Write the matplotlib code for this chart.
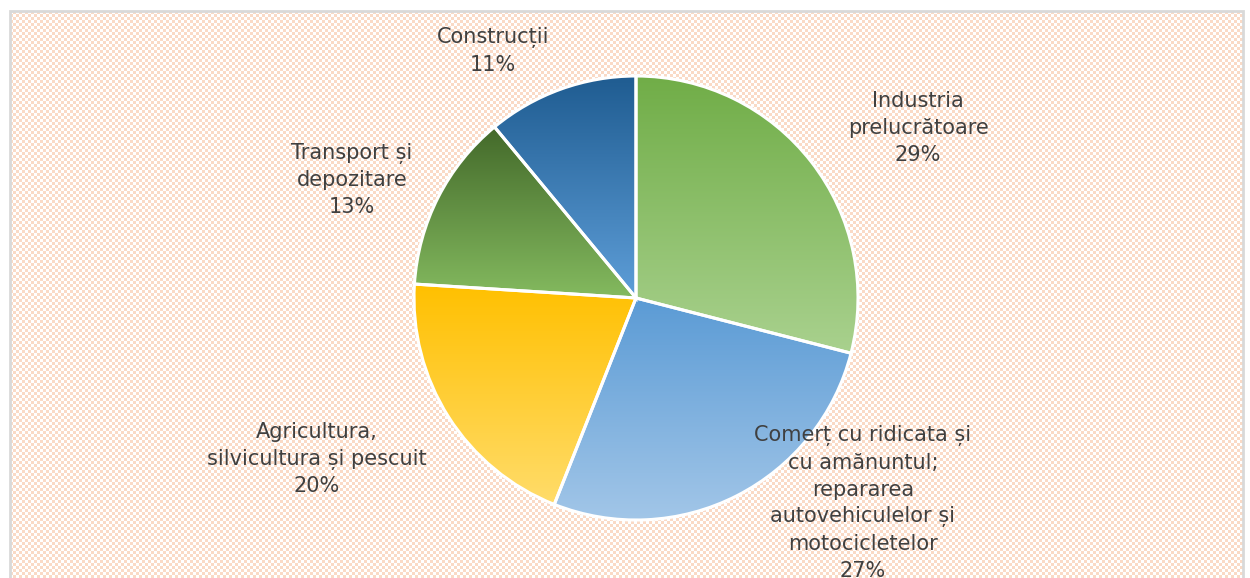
import numpy as np
import matplotlib
matplotlib.use("Agg")
import matplotlib.pyplot as plt
from matplotlib.colors import LinearSegmentedColormap
from matplotlib.patches import Rectangle

# ---- data ----
categories = ["Industria\nprelucrătoare",
              "Comerț cu ridicata și\ncu amănuntul;\nrepararea\nautovehiculelor și\nmotocicletelor",
              "Agricultura,\nsilvicultura și pescuit",
              "Transport și\ndepozitare",
              "Construcții"]
values = [29, 27, 20, 13, 11]

# gradient colours (top, bottom) per slice
grad_top = ["#70ad47", "#5b9bd5", "#ffc000", "#43692a", "#1f5c91"]
grad_bot = ["#a9d18e", "#a2c6e8", "#ffdc6a", "#84ba5f", "#5e9ed8"]

# label block centres in pixel coords (x, y from top)
label_pos = [(918, 128), (863, 503), (317, 459), (352, 180), (493, 51)]

W, H = 1250, 578
fig = plt.figure(figsize=(W / 100, H / 100), dpi=100)
fig.patch.set_facecolor("white")
ax = fig.add_axes([0, 0, 1, 1])
ax.set_xlim(0, W)
ax.set_ylim(0, H)
ax.set_aspect("equal")
ax.axis("off")

# ---- patterned background inside frame ----
fx0, fx1, fy_top = 10, 1243, 11
pw, ph = fx1 - fx0, H - fy_top
jj, ii = np.meshgrid(np.arange(pw), np.arange(ph))
chk = ((ii // 3 + jj // 3) % 2).astype(float)
peach = np.array([250, 218, 198]) / 255.0
white = np.array([1.0, 1.0, 1.0])
img = white[None, None, :] * (1 - chk[..., None]) + peach[None, None, :] * chk[..., None]
ax.imshow(img, extent=(fx0, fx1, 0, H - fy_top), interpolation="nearest",
          zorder=0, aspect="auto")
ax.add_patch(Rectangle((fx0, -5), pw, H - fy_top + 5, fill=False,
                       edgecolor="#d9d9d9", linewidth=2, zorder=1))

# ---- pie ----
cx, cy_px, r = 636, 298, 222
cy = H - cy_px
wedges, _ = ax.pie(values, startangle=90, counterclock=False, center=(cx, cy),
                   radius=r, frame=True,
                   wedgeprops=dict(edgecolor="white", linewidth=2.2))
ax.set_xlim(0, W)
ax.set_ylim(0, H)
ax.axis("off")

for w, ct, cb in zip(wedges, grad_top, grad_bot):
    ext = w.get_path().get_extents()
    cmap = LinearSegmentedColormap.from_list("g", [cb, ct])
    grad = np.linspace(0, 1, 256).reshape(-1, 1)
    im = ax.imshow(grad, cmap=cmap, origin="lower",
                   extent=(ext.x0, ext.x1, ext.y0, ext.y1),
                   aspect="auto", zorder=2, interpolation="bilinear")
    im.set_clip_path(w)
    w.set_facecolor("none")
    w.set_zorder(3)

# ---- labels ----
for name, v, (lx, ly) in zip(categories, values, label_pos):
    ax.text(lx, H - ly, f"{name}\n{v}%", ha="center", va="center",
            fontsize=15, color="#404040", linespacing=1.42,
            family="DejaVu Sans", zorder=5)

fig.savefig("out.png", dpi=100)
